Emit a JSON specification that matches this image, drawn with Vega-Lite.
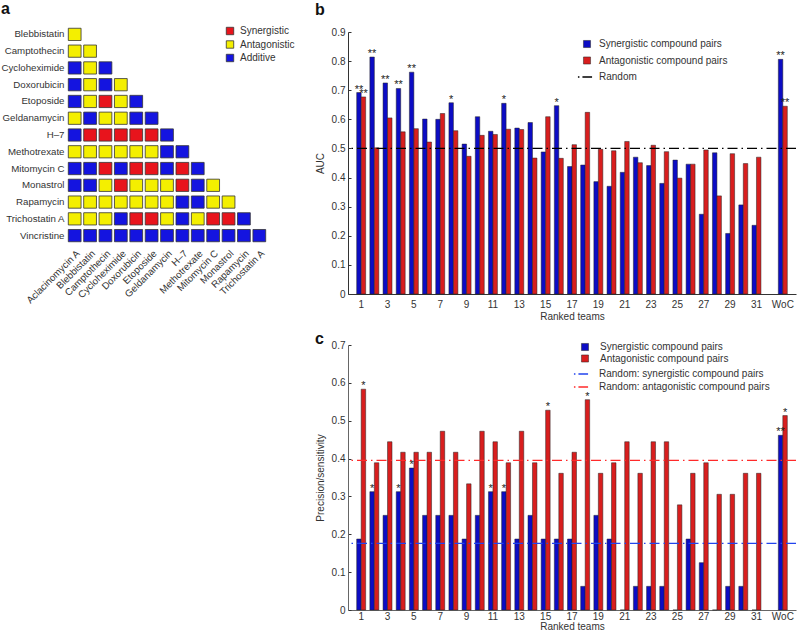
{
  "$schema": "https://vega.github.io/schema/vega-lite/v6.json",
  "padding": {"left": 1, "top": 1, "right": 0, "bottom": 0},
  "background": "white",
  "config": {
    "font": "Liberation Sans",
    "view": {"stroke": null},
    "axis": {"labelFontSize": 10, "titleFontSize": 10, "titleFontWeight": "normal", "labelColor": "#333", "titleColor": "#333", "domainColor": "#333", "tickColor": "#333", "grid": false},
    "axisY": {"labelOverlap": false},
    "legend": {"labelFontSize": 10, "labelColor": "#333", "labelLimit": 300},
    "title": {"fontSize": 16, "fontWeight": "bold", "anchor": "start", "frame": "bounds", "color": "#111"}
  },
  "datasets": {
    "cells": [
      {"drug1": "Blebbistatin", "drug2": "Aclacinomycin A", "interaction": "Antagonistic"},
      {"drug1": "Camptothecin", "drug2": "Aclacinomycin A", "interaction": "Antagonistic"},
      {"drug1": "Camptothecin", "drug2": "Blebbistatin", "interaction": "Antagonistic"},
      {"drug1": "Cycloheximide", "drug2": "Aclacinomycin A", "interaction": "Additive"},
      {"drug1": "Cycloheximide", "drug2": "Blebbistatin", "interaction": "Antagonistic"},
      {"drug1": "Cycloheximide", "drug2": "Camptothecin", "interaction": "Additive"},
      {"drug1": "Doxorubicin", "drug2": "Aclacinomycin A", "interaction": "Additive"},
      {"drug1": "Doxorubicin", "drug2": "Blebbistatin", "interaction": "Antagonistic"},
      {"drug1": "Doxorubicin", "drug2": "Camptothecin", "interaction": "Additive"},
      {"drug1": "Doxorubicin", "drug2": "Cycloheximide", "interaction": "Antagonistic"},
      {"drug1": "Etoposide", "drug2": "Aclacinomycin A", "interaction": "Additive"},
      {"drug1": "Etoposide", "drug2": "Blebbistatin", "interaction": "Antagonistic"},
      {"drug1": "Etoposide", "drug2": "Camptothecin", "interaction": "Synergistic"},
      {"drug1": "Etoposide", "drug2": "Cycloheximide", "interaction": "Antagonistic"},
      {"drug1": "Etoposide", "drug2": "Doxorubicin", "interaction": "Additive"},
      {"drug1": "Geldanamycin", "drug2": "Aclacinomycin A", "interaction": "Antagonistic"},
      {"drug1": "Geldanamycin", "drug2": "Blebbistatin", "interaction": "Additive"},
      {"drug1": "Geldanamycin", "drug2": "Camptothecin", "interaction": "Antagonistic"},
      {"drug1": "Geldanamycin", "drug2": "Cycloheximide", "interaction": "Antagonistic"},
      {"drug1": "Geldanamycin", "drug2": "Doxorubicin", "interaction": "Additive"},
      {"drug1": "Geldanamycin", "drug2": "Etoposide", "interaction": "Additive"},
      {"drug1": "H–7", "drug2": "Aclacinomycin A", "interaction": "Additive"},
      {"drug1": "H–7", "drug2": "Blebbistatin", "interaction": "Synergistic"},
      {"drug1": "H–7", "drug2": "Camptothecin", "interaction": "Synergistic"},
      {"drug1": "H–7", "drug2": "Cycloheximide", "interaction": "Synergistic"},
      {"drug1": "H–7", "drug2": "Doxorubicin", "interaction": "Synergistic"},
      {"drug1": "H–7", "drug2": "Etoposide", "interaction": "Synergistic"},
      {"drug1": "H–7", "drug2": "Geldanamycin", "interaction": "Additive"},
      {"drug1": "Methotrexate", "drug2": "Aclacinomycin A", "interaction": "Antagonistic"},
      {"drug1": "Methotrexate", "drug2": "Blebbistatin", "interaction": "Antagonistic"},
      {"drug1": "Methotrexate", "drug2": "Camptothecin", "interaction": "Antagonistic"},
      {"drug1": "Methotrexate", "drug2": "Cycloheximide", "interaction": "Antagonistic"},
      {"drug1": "Methotrexate", "drug2": "Doxorubicin", "interaction": "Antagonistic"},
      {"drug1": "Methotrexate", "drug2": "Etoposide", "interaction": "Antagonistic"},
      {"drug1": "Methotrexate", "drug2": "Geldanamycin", "interaction": "Additive"},
      {"drug1": "Methotrexate", "drug2": "H–7", "interaction": "Additive"},
      {"drug1": "Mitomycin C", "drug2": "Aclacinomycin A", "interaction": "Additive"},
      {"drug1": "Mitomycin C", "drug2": "Blebbistatin", "interaction": "Additive"},
      {"drug1": "Mitomycin C", "drug2": "Camptothecin", "interaction": "Synergistic"},
      {"drug1": "Mitomycin C", "drug2": "Cycloheximide", "interaction": "Additive"},
      {"drug1": "Mitomycin C", "drug2": "Doxorubicin", "interaction": "Synergistic"},
      {"drug1": "Mitomycin C", "drug2": "Etoposide", "interaction": "Synergistic"},
      {"drug1": "Mitomycin C", "drug2": "Geldanamycin", "interaction": "Additive"},
      {"drug1": "Mitomycin C", "drug2": "H–7", "interaction": "Synergistic"},
      {"drug1": "Mitomycin C", "drug2": "Methotrexate", "interaction": "Additive"},
      {"drug1": "Monastrol", "drug2": "Aclacinomycin A", "interaction": "Additive"},
      {"drug1": "Monastrol", "drug2": "Blebbistatin", "interaction": "Additive"},
      {"drug1": "Monastrol", "drug2": "Camptothecin", "interaction": "Antagonistic"},
      {"drug1": "Monastrol", "drug2": "Cycloheximide", "interaction": "Synergistic"},
      {"drug1": "Monastrol", "drug2": "Doxorubicin", "interaction": "Antagonistic"},
      {"drug1": "Monastrol", "drug2": "Etoposide", "interaction": "Antagonistic"},
      {"drug1": "Monastrol", "drug2": "Geldanamycin", "interaction": "Antagonistic"},
      {"drug1": "Monastrol", "drug2": "H–7", "interaction": "Synergistic"},
      {"drug1": "Monastrol", "drug2": "Methotrexate", "interaction": "Additive"},
      {"drug1": "Monastrol", "drug2": "Mitomycin C", "interaction": "Antagonistic"},
      {"drug1": "Rapamycin", "drug2": "Aclacinomycin A", "interaction": "Antagonistic"},
      {"drug1": "Rapamycin", "drug2": "Blebbistatin", "interaction": "Antagonistic"},
      {"drug1": "Rapamycin", "drug2": "Camptothecin", "interaction": "Antagonistic"},
      {"drug1": "Rapamycin", "drug2": "Cycloheximide", "interaction": "Antagonistic"},
      {"drug1": "Rapamycin", "drug2": "Doxorubicin", "interaction": "Antagonistic"},
      {"drug1": "Rapamycin", "drug2": "Etoposide", "interaction": "Antagonistic"},
      {"drug1": "Rapamycin", "drug2": "Geldanamycin", "interaction": "Antagonistic"},
      {"drug1": "Rapamycin", "drug2": "H–7", "interaction": "Additive"},
      {"drug1": "Rapamycin", "drug2": "Methotrexate", "interaction": "Additive"},
      {"drug1": "Rapamycin", "drug2": "Mitomycin C", "interaction": "Antagonistic"},
      {"drug1": "Rapamycin", "drug2": "Monastrol", "interaction": "Antagonistic"},
      {"drug1": "Trichostatin A", "drug2": "Aclacinomycin A", "interaction": "Antagonistic"},
      {"drug1": "Trichostatin A", "drug2": "Blebbistatin", "interaction": "Antagonistic"},
      {"drug1": "Trichostatin A", "drug2": "Camptothecin", "interaction": "Antagonistic"},
      {"drug1": "Trichostatin A", "drug2": "Cycloheximide", "interaction": "Additive"},
      {"drug1": "Trichostatin A", "drug2": "Doxorubicin", "interaction": "Synergistic"},
      {"drug1": "Trichostatin A", "drug2": "Etoposide", "interaction": "Synergistic"},
      {"drug1": "Trichostatin A", "drug2": "Geldanamycin", "interaction": "Antagonistic"},
      {"drug1": "Trichostatin A", "drug2": "H–7", "interaction": "Additive"},
      {"drug1": "Trichostatin A", "drug2": "Methotrexate", "interaction": "Antagonistic"},
      {"drug1": "Trichostatin A", "drug2": "Mitomycin C", "interaction": "Synergistic"},
      {"drug1": "Trichostatin A", "drug2": "Monastrol", "interaction": "Synergistic"},
      {"drug1": "Trichostatin A", "drug2": "Rapamycin", "interaction": "Additive"},
      {"drug1": "Vincristine", "drug2": "Aclacinomycin A", "interaction": "Additive"},
      {"drug1": "Vincristine", "drug2": "Blebbistatin", "interaction": "Additive"},
      {"drug1": "Vincristine", "drug2": "Camptothecin", "interaction": "Additive"},
      {"drug1": "Vincristine", "drug2": "Cycloheximide", "interaction": "Additive"},
      {"drug1": "Vincristine", "drug2": "Doxorubicin", "interaction": "Additive"},
      {"drug1": "Vincristine", "drug2": "Etoposide", "interaction": "Additive"},
      {"drug1": "Vincristine", "drug2": "Geldanamycin", "interaction": "Additive"},
      {"drug1": "Vincristine", "drug2": "H–7", "interaction": "Additive"},
      {"drug1": "Vincristine", "drug2": "Methotrexate", "interaction": "Additive"},
      {"drug1": "Vincristine", "drug2": "Mitomycin C", "interaction": "Additive"},
      {"drug1": "Vincristine", "drug2": "Monastrol", "interaction": "Additive"},
      {"drug1": "Vincristine", "drug2": "Rapamycin", "interaction": "Additive"},
      {"drug1": "Vincristine", "drug2": "Trichostatin A", "interaction": "Additive"}
    ],
    "auc": [
      {"team": "1", "s": "Synergistic compound pairs", "v": 0.692, "sig": "**"},
      {"team": "1", "s": "Antagonistic compound pairs", "v": 0.677, "sig": "**"},
      {"team": "2", "s": "Synergistic compound pairs", "v": 0.814, "sig": "**"},
      {"team": "2", "s": "Antagonistic compound pairs", "v": 0.502, "sig": ""},
      {"team": "3", "s": "Synergistic compound pairs", "v": 0.725, "sig": "**"},
      {"team": "3", "s": "Antagonistic compound pairs", "v": 0.605, "sig": ""},
      {"team": "4", "s": "Synergistic compound pairs", "v": 0.706, "sig": "**"},
      {"team": "4", "s": "Antagonistic compound pairs", "v": 0.557, "sig": ""},
      {"team": "5", "s": "Synergistic compound pairs", "v": 0.762, "sig": "**"},
      {"team": "5", "s": "Antagonistic compound pairs", "v": 0.568, "sig": ""},
      {"team": "6", "s": "Synergistic compound pairs", "v": 0.601, "sig": ""},
      {"team": "6", "s": "Antagonistic compound pairs", "v": 0.522, "sig": ""},
      {"team": "7", "s": "Synergistic compound pairs", "v": 0.600, "sig": ""},
      {"team": "7", "s": "Antagonistic compound pairs", "v": 0.620, "sig": ""},
      {"team": "8", "s": "Synergistic compound pairs", "v": 0.657, "sig": "*"},
      {"team": "8", "s": "Antagonistic compound pairs", "v": 0.561, "sig": ""},
      {"team": "9", "s": "Synergistic compound pairs", "v": 0.515, "sig": ""},
      {"team": "9", "s": "Antagonistic compound pairs", "v": 0.473, "sig": ""},
      {"team": "10", "s": "Synergistic compound pairs", "v": 0.609, "sig": ""},
      {"team": "10", "s": "Antagonistic compound pairs", "v": 0.545, "sig": ""},
      {"team": "11", "s": "Synergistic compound pairs", "v": 0.559, "sig": ""},
      {"team": "11", "s": "Antagonistic compound pairs", "v": 0.548, "sig": ""},
      {"team": "12", "s": "Synergistic compound pairs", "v": 0.655, "sig": "*"},
      {"team": "12", "s": "Antagonistic compound pairs", "v": 0.566, "sig": ""},
      {"team": "13", "s": "Synergistic compound pairs", "v": 0.570, "sig": ""},
      {"team": "13", "s": "Antagonistic compound pairs", "v": 0.565, "sig": ""},
      {"team": "14", "s": "Synergistic compound pairs", "v": 0.589, "sig": ""},
      {"team": "14", "s": "Antagonistic compound pairs", "v": 0.467, "sig": ""},
      {"team": "15", "s": "Synergistic compound pairs", "v": 0.488, "sig": ""},
      {"team": "15", "s": "Antagonistic compound pairs", "v": 0.609, "sig": ""},
      {"team": "16", "s": "Synergistic compound pairs", "v": 0.647, "sig": "*"},
      {"team": "16", "s": "Antagonistic compound pairs", "v": 0.466, "sig": ""},
      {"team": "17", "s": "Synergistic compound pairs", "v": 0.438, "sig": ""},
      {"team": "17", "s": "Antagonistic compound pairs", "v": 0.513, "sig": ""},
      {"team": "18", "s": "Synergistic compound pairs", "v": 0.443, "sig": ""},
      {"team": "18", "s": "Antagonistic compound pairs", "v": 0.624, "sig": ""},
      {"team": "19", "s": "Synergistic compound pairs", "v": 0.386, "sig": ""},
      {"team": "19", "s": "Antagonistic compound pairs", "v": 0.497, "sig": ""},
      {"team": "20", "s": "Synergistic compound pairs", "v": 0.370, "sig": ""},
      {"team": "20", "s": "Antagonistic compound pairs", "v": 0.492, "sig": ""},
      {"team": "21", "s": "Synergistic compound pairs", "v": 0.418, "sig": ""},
      {"team": "21", "s": "Antagonistic compound pairs", "v": 0.524, "sig": ""},
      {"team": "22", "s": "Synergistic compound pairs", "v": 0.470, "sig": ""},
      {"team": "22", "s": "Antagonistic compound pairs", "v": 0.451, "sig": ""},
      {"team": "23", "s": "Synergistic compound pairs", "v": 0.441, "sig": ""},
      {"team": "23", "s": "Antagonistic compound pairs", "v": 0.511, "sig": ""},
      {"team": "24", "s": "Synergistic compound pairs", "v": 0.380, "sig": ""},
      {"team": "24", "s": "Antagonistic compound pairs", "v": 0.489, "sig": ""},
      {"team": "25", "s": "Synergistic compound pairs", "v": 0.460, "sig": ""},
      {"team": "25", "s": "Antagonistic compound pairs", "v": 0.398, "sig": ""},
      {"team": "26", "s": "Synergistic compound pairs", "v": 0.446, "sig": ""},
      {"team": "26", "s": "Antagonistic compound pairs", "v": 0.446, "sig": ""},
      {"team": "27", "s": "Synergistic compound pairs", "v": 0.274, "sig": ""},
      {"team": "27", "s": "Antagonistic compound pairs", "v": 0.495, "sig": ""},
      {"team": "28", "s": "Synergistic compound pairs", "v": 0.485, "sig": ""},
      {"team": "28", "s": "Antagonistic compound pairs", "v": 0.337, "sig": ""},
      {"team": "29", "s": "Synergistic compound pairs", "v": 0.208, "sig": ""},
      {"team": "29", "s": "Antagonistic compound pairs", "v": 0.482, "sig": ""},
      {"team": "30", "s": "Synergistic compound pairs", "v": 0.306, "sig": ""},
      {"team": "30", "s": "Antagonistic compound pairs", "v": 0.448, "sig": ""},
      {"team": "31", "s": "Synergistic compound pairs", "v": 0.236, "sig": ""},
      {"team": "31", "s": "Antagonistic compound pairs", "v": 0.470, "sig": ""},
      {"team": "WoC", "s": "Synergistic compound pairs", "v": 0.806, "sig": "**"},
      {"team": "WoC", "s": "Antagonistic compound pairs", "v": 0.645, "sig": "**"}
    ],
    "random_b": [
      {"s": "Random", "v": 0.5}
    ],
    "prec": [
      {"team": "1", "s": "Synergistic compound pairs", "v": 0.1875, "sig": ""},
      {"team": "1", "s": "Antagonistic compound pairs", "v": 0.5833, "sig": "*"},
      {"team": "2", "s": "Synergistic compound pairs", "v": 0.3125, "sig": "*"},
      {"team": "2", "s": "Antagonistic compound pairs", "v": 0.3889, "sig": ""},
      {"team": "3", "s": "Synergistic compound pairs", "v": 0.25, "sig": ""},
      {"team": "3", "s": "Antagonistic compound pairs", "v": 0.4444, "sig": ""},
      {"team": "4", "s": "Synergistic compound pairs", "v": 0.3125, "sig": "*"},
      {"team": "4", "s": "Antagonistic compound pairs", "v": 0.4167, "sig": ""},
      {"team": "5", "s": "Synergistic compound pairs", "v": 0.375, "sig": "*"},
      {"team": "5", "s": "Antagonistic compound pairs", "v": 0.4167, "sig": ""},
      {"team": "6", "s": "Synergistic compound pairs", "v": 0.25, "sig": ""},
      {"team": "6", "s": "Antagonistic compound pairs", "v": 0.4167, "sig": ""},
      {"team": "7", "s": "Synergistic compound pairs", "v": 0.25, "sig": ""},
      {"team": "7", "s": "Antagonistic compound pairs", "v": 0.4722, "sig": ""},
      {"team": "8", "s": "Synergistic compound pairs", "v": 0.25, "sig": ""},
      {"team": "8", "s": "Antagonistic compound pairs", "v": 0.4167, "sig": ""},
      {"team": "9", "s": "Synergistic compound pairs", "v": 0.1875, "sig": ""},
      {"team": "9", "s": "Antagonistic compound pairs", "v": 0.3333, "sig": ""},
      {"team": "10", "s": "Synergistic compound pairs", "v": 0.25, "sig": ""},
      {"team": "10", "s": "Antagonistic compound pairs", "v": 0.4722, "sig": ""},
      {"team": "11", "s": "Synergistic compound pairs", "v": 0.3125, "sig": "*"},
      {"team": "11", "s": "Antagonistic compound pairs", "v": 0.4444, "sig": ""},
      {"team": "12", "s": "Synergistic compound pairs", "v": 0.3125, "sig": "*"},
      {"team": "12", "s": "Antagonistic compound pairs", "v": 0.3889, "sig": ""},
      {"team": "13", "s": "Synergistic compound pairs", "v": 0.1875, "sig": ""},
      {"team": "13", "s": "Antagonistic compound pairs", "v": 0.4722, "sig": ""},
      {"team": "14", "s": "Synergistic compound pairs", "v": 0.25, "sig": ""},
      {"team": "14", "s": "Antagonistic compound pairs", "v": 0.3889, "sig": ""},
      {"team": "15", "s": "Synergistic compound pairs", "v": 0.1875, "sig": ""},
      {"team": "15", "s": "Antagonistic compound pairs", "v": 0.5278, "sig": "*"},
      {"team": "16", "s": "Synergistic compound pairs", "v": 0.1875, "sig": ""},
      {"team": "16", "s": "Antagonistic compound pairs", "v": 0.3611, "sig": ""},
      {"team": "17", "s": "Synergistic compound pairs", "v": 0.1875, "sig": ""},
      {"team": "17", "s": "Antagonistic compound pairs", "v": 0.4167, "sig": ""},
      {"team": "18", "s": "Synergistic compound pairs", "v": 0.0625, "sig": ""},
      {"team": "18", "s": "Antagonistic compound pairs", "v": 0.5556, "sig": "*"},
      {"team": "19", "s": "Synergistic compound pairs", "v": 0.25, "sig": ""},
      {"team": "19", "s": "Antagonistic compound pairs", "v": 0.3611, "sig": ""},
      {"team": "20", "s": "Synergistic compound pairs", "v": 0.1875, "sig": ""},
      {"team": "20", "s": "Antagonistic compound pairs", "v": 0.3889, "sig": ""},
      {"team": "21", "s": "Synergistic compound pairs", "v": 0, "sig": ""},
      {"team": "21", "s": "Antagonistic compound pairs", "v": 0.4444, "sig": ""},
      {"team": "22", "s": "Synergistic compound pairs", "v": 0.0625, "sig": ""},
      {"team": "22", "s": "Antagonistic compound pairs", "v": 0.3611, "sig": ""},
      {"team": "23", "s": "Synergistic compound pairs", "v": 0.0625, "sig": ""},
      {"team": "23", "s": "Antagonistic compound pairs", "v": 0.4444, "sig": ""},
      {"team": "24", "s": "Synergistic compound pairs", "v": 0.0625, "sig": ""},
      {"team": "24", "s": "Antagonistic compound pairs", "v": 0.4444, "sig": ""},
      {"team": "25", "s": "Synergistic compound pairs", "v": 0, "sig": ""},
      {"team": "25", "s": "Antagonistic compound pairs", "v": 0.2778, "sig": ""},
      {"team": "26", "s": "Synergistic compound pairs", "v": 0.1875, "sig": ""},
      {"team": "26", "s": "Antagonistic compound pairs", "v": 0.3611, "sig": ""},
      {"team": "27", "s": "Synergistic compound pairs", "v": 0.125, "sig": ""},
      {"team": "27", "s": "Antagonistic compound pairs", "v": 0.3889, "sig": ""},
      {"team": "28", "s": "Synergistic compound pairs", "v": 0, "sig": ""},
      {"team": "28", "s": "Antagonistic compound pairs", "v": 0.3056, "sig": ""},
      {"team": "29", "s": "Synergistic compound pairs", "v": 0.0625, "sig": ""},
      {"team": "29", "s": "Antagonistic compound pairs", "v": 0.3056, "sig": ""},
      {"team": "30", "s": "Synergistic compound pairs", "v": 0.0625, "sig": ""},
      {"team": "30", "s": "Antagonistic compound pairs", "v": 0.3611, "sig": ""},
      {"team": "31", "s": "Synergistic compound pairs", "v": 0, "sig": ""},
      {"team": "31", "s": "Antagonistic compound pairs", "v": 0.3611, "sig": ""},
      {"team": "WoC", "s": "Synergistic compound pairs", "v": 0.4615, "sig": "**"},
      {"team": "WoC", "s": "Antagonistic compound pairs", "v": 0.5135, "sig": "*"}
    ],
    "random_c": [
      {"s": "Random: synergistic compound pairs", "v": 0.176},
      {"s": "Random: antagonistic compound pairs", "v": 0.395}
    ]
  },
  "bounds": "flush",
  "spacing": 81,
  "resolve": {
    "scale": {"color": "independent", "fill": "independent", "stroke": "independent", "x": "independent", "y": "independent", "xOffset": "independent"},
    "legend": {"color": "independent", "fill": "independent", "stroke": "independent"}
  },
  "hconcat": [
    {
      "title": {"text": "a", "offset": 9},
      "width": 200,
      "height": 218,
      "data": {"name": "cells"},
      "mark": {"type": "rect", "stroke": "#333", "strokeWidth": 0.8},
      "encoding": {
        "x": {
          "field": "drug2", "type": "nominal",
          "scale": {"domain": ["Aclacinomycin A", "Blebbistatin", "Camptothecin", "Cycloheximide", "Doxorubicin", "Etoposide", "Geldanamycin", "H–7", "Methotrexate", "Mitomycin C", "Monastrol", "Rapamycin", "Trichostatin A"], "paddingInner": 0.17, "paddingOuter": 0.085},
          "axis": {"title": null, "labelAngle": -45, "domain": false, "ticks": false, "labelPadding": 4, "labelFontSize": 9.7}
        },
        "y": {
          "field": "drug1", "type": "nominal",
          "scale": {"domain": ["Blebbistatin", "Camptothecin", "Cycloheximide", "Doxorubicin", "Etoposide", "Geldanamycin", "H–7", "Methotrexate", "Mitomycin C", "Monastrol", "Rapamycin", "Trichostatin A", "Vincristine"], "paddingInner": 0.27, "paddingOuter": 0.135},
          "axis": {"title": null, "domain": false, "ticks": false, "labelPadding": 3, "labelFontSize": 9.7}
        },
        "color": {
          "field": "interaction", "type": "nominal",
          "scale": {"domain": ["Synergistic", "Antagonistic", "Additive"], "range": ["#e8141c", "#f4ef00", "#1414e0"]},
          "legend": {"title": null, "orient": "none", "legendX": 158, "legendY": 0, "symbolType": "square", "symbolSize": 55, "symbolStrokeColor": "#333", "symbolStrokeWidth": 0.8, "rowPadding": 1.5, "labelOffset": 5}
        }
      }
    },
    {
      "bounds": "flush",
      "spacing": 51,
      "resolve": {
        "scale": {"fill": "independent", "stroke": "independent", "x": "independent", "y": "independent", "xOffset": "independent"},
        "legend": {"fill": "independent", "stroke": "independent"}
      },
      "vconcat": [
        {
          "title": {"text": "b", "offset": 8},
          "width": 448,
          "height": 268,
          "encoding": {
            "y": {
              "field": "v", "type": "quantitative",
              "scale": {"domain": [0, 0.9], "nice": false, "range": [268, 6]},
              "axis": {"title": "AUC", "values": [0, 0.1, 0.2, 0.3, 0.4, 0.5, 0.6, 0.7, 0.8, 0.9], "format": "~g", "labelOverlap": false, "labelFlush": false, "tickSize": -3, "labelPadding": 6, "titlePadding": 6}
            }
          },
          "layer": [
            {
              "data": {"name": "auc"},
              "mark": {"type": "bar", "stroke": "#222", "strokeWidth": 0.5},
              "encoding": {
                "x": {
                  "field": "team", "type": "nominal",
                  "scale": {"domain": ["1","2","3","4","5","6","7","8","9","10","11","12","13","14","15","16","17","18","19","20","21","22","23","24","25","26","27","28","29","30","31","32","WoC"], "paddingInner": 0.32, "paddingOuter": 0.66},
                  "axis": {"title": "Ranked teams", "labelAngle": 0, "ticks": false, "labelPadding": 5, "titlePadding": 2, "labelExpr": "datum.value === 'WoC' || datum.value % 2 === 1 ? datum.label : ''"}
                },
                "xOffset": {"field": "s", "type": "nominal", "scale": {"domain": ["Synergistic compound pairs", "Antagonistic compound pairs"], "paddingInner": 0, "paddingOuter": 0}},
                "fill": {
                  "field": "s", "type": "nominal",
                  "scale": {"domain": ["Synergistic compound pairs", "Antagonistic compound pairs"], "range": ["#0c0cc4", "#d81e1e"]},
                  "legend": {"title": null, "orient": "none", "legendX": 234, "legendY": 13, "symbolType": "square", "symbolSize": 50, "symbolStrokeColor": "#222", "symbolStrokeWidth": 0.5, "rowPadding": 6.5, "labelOffset": 7}
                }
              }
            },
            {
              "data": {"name": "auc"},
              "mark": {"type": "text", "baseline": "alphabetic", "dy": 0, "fontSize": 11, "color": "#222"},
              "encoding": {
                "x": {"field": "team", "type": "nominal"},
                "xOffset": {"field": "s", "type": "nominal"},
                "text": {"field": "sig"}
              }
            },
            {
              "data": {"name": "random_b"},
              "mark": {"type": "rule", "strokeDash": [10, 4, 1.5, 4], "strokeWidth": 1.3},
              "encoding": {
                "stroke": {
                  "field": "s", "type": "nominal",
                  "scale": {"domain": ["Random"], "range": ["#000000"]},
                  "legend": {"title": null, "orient": "none", "legendX": 229, "legendY": 43, "symbolType": "stroke", "symbolSize": 200, "symbolStrokeWidth": 1.3, "symbolDash": [1.5, 3, 10, 20], "labelOffset": 6}
                }
              }
            }
          ]
        },
        {
          "title": {"text": "c", "offset": -7},
          "width": 448,
          "height": 265,
          "encoding": {
            "y": {
              "field": "v", "type": "quantitative",
              "scale": {"domain": [0, 0.7], "nice": false},
              "axis": {"title": "Precision/sensitivity", "values": [0, 0.1, 0.2, 0.3, 0.4, 0.5, 0.6, 0.7], "format": "~g", "labelOverlap": false, "labelFlush": false, "tickSize": -3, "labelPadding": 6, "titlePadding": 6, "domainColor": "#666"}
            }
          },
          "layer": [
            {
              "data": {"name": "prec"},
              "mark": {"type": "bar", "stroke": "#222", "strokeWidth": 0.5},
              "encoding": {
                "x": {
                  "field": "team", "type": "nominal",
                  "scale": {"domain": ["1","2","3","4","5","6","7","8","9","10","11","12","13","14","15","16","17","18","19","20","21","22","23","24","25","26","27","28","29","30","31","32","WoC"], "paddingInner": 0.32, "paddingOuter": 0.66},
                  "axis": {"title": "Ranked teams", "labelAngle": 0, "ticks": false, "labelPadding": 1, "titlePadding": 0, "domainColor": "#666", "labelExpr": "datum.value === 'WoC' || datum.value % 2 === 1 ? datum.label : ''"}
                },
                "xOffset": {"field": "s", "type": "nominal", "scale": {"domain": ["Synergistic compound pairs", "Antagonistic compound pairs"], "paddingInner": 0, "paddingOuter": 0}},
                "fill": {
                  "field": "s", "type": "nominal",
                  "scale": {"domain": ["Synergistic compound pairs", "Antagonistic compound pairs"], "range": ["#0c0cc4", "#d81e1e"]},
                  "legend": {"title": null, "orient": "none", "legendX": 232, "legendY": -3, "symbolType": "square", "symbolSize": 50, "symbolStrokeColor": "#222", "symbolStrokeWidth": 0.5, "rowPadding": 1.5, "labelOffset": 10}
                }
              }
            },
            {
              "data": {"name": "prec"},
              "mark": {"type": "text", "baseline": "alphabetic", "dy": 0, "fontSize": 11, "color": "#222"},
              "encoding": {
                "x": {"field": "team", "type": "nominal"},
                "xOffset": {"field": "s", "type": "nominal"},
                "text": {"field": "sig"}
              }
            },
            {
              "data": {"name": "random_c"},
              "mark": {"type": "rule", "strokeDash": [10, 4, 1.5, 4], "strokeWidth": 1.3},
              "encoding": {
                "stroke": {
                  "field": "s", "type": "nominal",
                  "scale": {"domain": ["Random: synergistic compound pairs", "Random: antagonistic compound pairs"], "range": ["#2244ee", "#ff2a2a"]},
                  "legend": {"title": null, "orient": "none", "legendX": 225, "legendY": 21, "symbolType": "stroke", "symbolSize": 200, "symbolStrokeWidth": 1.3, "symbolDash": [1.5, 3, 10, 20], "rowPadding": -4.4, "labelOffset": 10}
                }
              }
            }
          ]
        }
      ]
    }
  ]
}
